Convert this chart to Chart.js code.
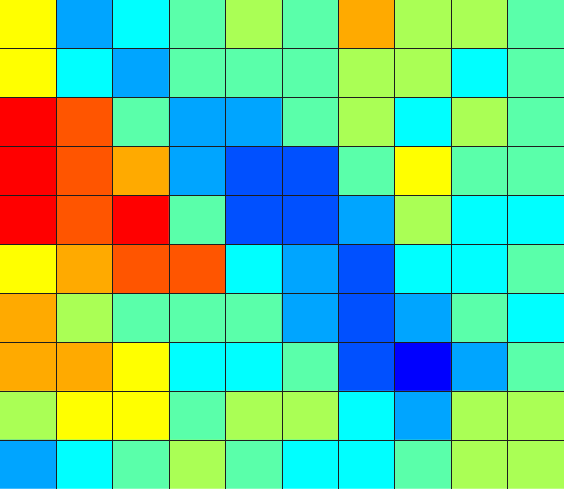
<!DOCTYPE html>
<html>
<head>
<meta charset="utf-8">
<script src="https://cdn.jsdelivr.net/npm/chart.js@4/dist/chart.umd.min.js"></script>
<style>
  html, body { margin: 0; padding: 0; background: #fff; }
  #wrap { width: 564px; height: 489px; }
</style>
</head>
<body>
<div id="wrap"><canvas id="heat" width="564" height="489"></canvas></div>
<script>
// columns and rows of the grid
const columns = ['C1','C2','C3','C4','C5','C6','C7','C8','C9','C10'];

// cell levels, top row first (0 = deep blue ... 9 = red)
const row1  = [6, 2, 3, 4, 5, 4, 7, 5, 5, 4];
const row2  = [6, 3, 2, 4, 4, 4, 5, 5, 3, 4];
const row3  = [9, 8, 4, 2, 2, 4, 5, 3, 5, 4];
const row4  = [9, 8, 7, 2, 1, 1, 4, 6, 4, 4];
const row5  = [9, 8, 9, 4, 1, 1, 2, 5, 3, 3];
const row6  = [6, 7, 8, 8, 3, 2, 1, 3, 3, 4];
const row7  = [7, 5, 4, 4, 4, 2, 1, 2, 4, 3];
const row8  = [7, 7, 6, 3, 3, 4, 1, 0, 2, 4];
const row9  = [5, 6, 6, 4, 5, 5, 3, 2, 5, 5];
const row10 = [2, 3, 4, 5, 4, 3, 3, 4, 5, 5];

const rows = [row1, row2, row3, row4, row5, row6, row7, row8, row9, row10];

// jet-like palette, one colour per level
const palette = ['#0000ff','#0050ff','#00a5ff','#00ffff','#5affaa',
                 '#aaff55','#ffff00','#ffaa00','#ff5500','#ff0000'];

// bottom row first so the stack builds upward
const datasets = rows.slice().reverse().map((r, i) => ({
    label: 'row' + (rows.length - i),
    data: r.map(() => 1),
    backgroundColor: r.map(v => palette[v]),
    borderWidth: 0,
    categoryPercentage: 1,
    barPercentage: 1
}));

const edgeless = (n) => (ctx) => (ctx.index === 0 || ctx.index === n) ? 'rgba(0,0,0,0)' : '#1e1e1e';

new Chart(document.getElementById('heat'), {
    type: 'bar',
    data: { labels: columns, datasets },
    options: {
        responsive: false,
        animation: false,
        layout: { padding: 0 },
        plugins: { legend: { display: false }, tooltip: { enabled: false } },
        scales: {
            x: {
                stacked: true,
                ticks: { display: false },
                border: { display: false },
                grid: { offset: true, z: 1, drawTicks: false, lineWidth: 1, color: edgeless(columns.length) }
            },
            y: {
                stacked: true,
                min: 0, max: rows.length,
                ticks: { display: false, stepSize: 1 },
                border: { display: false },
                grid: { z: 1, drawTicks: false, lineWidth: 1, color: edgeless(rows.length) }
            }
        }
    }
});
</script>
</body>
</html>
